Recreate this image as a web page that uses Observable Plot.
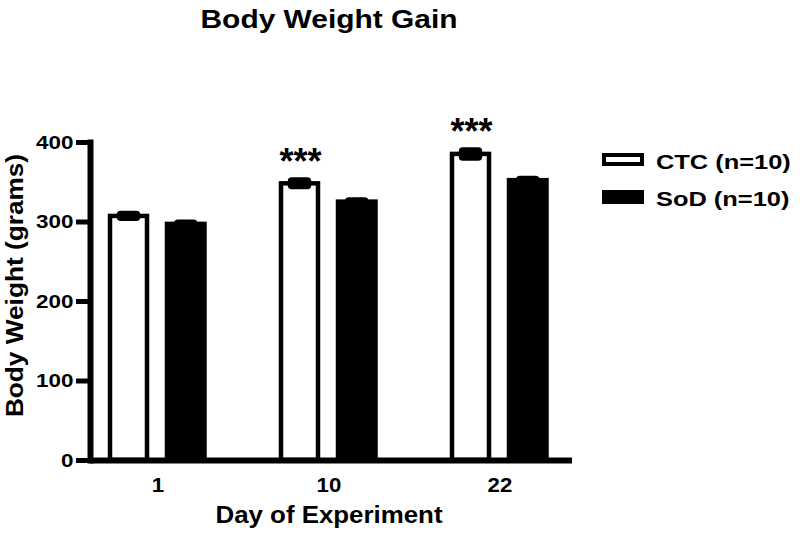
<!DOCTYPE html>
<html>
<head>
<meta charset="utf-8">
<script src="https://cdn.jsdelivr.net/npm/d3@7"></script>
<script src="https://cdn.jsdelivr.net/npm/@observablehq/plot@0.6"></script>
<style>
  html, body { margin: 0; padding: 0; background: #fff; }
  #wrap { position: relative; width: 800px; height: 535px; overflow: hidden;
          font-family: "Liberation Sans", Arial, sans-serif; font-weight: bold; color: #000; }
  #wrap svg { position: absolute; left: 0; top: 0; }
  .lbl { position: absolute; white-space: nowrap; }
  #title { left: 29px; top: 6.3px; width: 600px; text-align: center; font-size: 26px; line-height: 26px; transform: scaleX(1.15); }
  #xlabel { left: 129px; top: 503.6px; width: 400px; text-align: center; font-size: 23.3px; line-height: 23.3px; transform: scaleX(1.11); }
  #ylabel { left: -135px; top: 273.5px; width: 300px; height: 23px; text-align: center; font-size: 23px; line-height: 23px; transform: rotate(-90deg) scaleX(1.14); }
  .legtext { left: 656px; font-size: 20px; line-height: 20px; transform-origin: left center; transform: scaleX(1.27); }
  .legbox { position: absolute; left: 602px; width: 42px; box-sizing: border-box; border: 4px solid #000; }
</style>
</head>
<body>
<div id="wrap">
  <div id="chart"></div>
  <div id="title" class="lbl">Body Weight Gain</div>
  <div id="xlabel" class="lbl">Day of Experiment</div>
  <div id="ylabel" class="lbl">Body Weight (grams)</div>
  <div id="legend"></div>
</div>
<script>
// ---- data ----
const days = ["1", "10", "22"];
const groups = ["CTC (n=10)", "SoD (n=10)"];
const ctcMean = [307, 348, 385];
const ctcErr = [4, 5, 6];
const sodMean = [297, 325, 352];
const sodErr = [3, 3, 3];
const sigLabels = ["", "***", "***"];
const yTicks = [0, 100, 200, 300, 400];

const ctc = days.map((d, i) => ({day: d, group: groups[0], mean: ctcMean[i], err: ctcErr[i], sig: sigLabels[i]}));
const sod = days.map((d, i) => ({day: d, group: groups[1], mean: sodMean[i], err: sodErr[i]}));

const chart = Plot.plot({
  width: 800,
  height: 535,
  marginLeft: 90,
  marginRight: 228,
  marginTop: 142,
  marginBottom: 75,
  style: {fontFamily: "'Liberation Sans', Arial, sans-serif", fontWeight: "bold", color: "black", background: "transparent", overflow: "visible"},
  x: {domain: days, range: [71, 585.5], padding: 0},
  y: {domain: [0, 400]},
  marks: [
    Plot.barY(ctc, {x: "day", y: "mean", fill: "white", stroke: "black", strokeWidth: 4.5, insetLeft: 38, insetRight: 96}),
    Plot.barY(sod, {x: "day", y: "mean", fill: "black", stroke: "black", strokeWidth: 4.5, insetLeft: 95, insetRight: 38.5}),
    Plot.barY(ctc, {x: "day", y1: d => d.mean - d.err, y2: d => d.mean + d.err, fill: "black", stroke: "black", strokeWidth: 4, rx: 2, insetLeft: 46.75, insetRight: 104.75}),
    Plot.barY(sod, {x: "day", y1: d => d.mean - d.err, y2: d => d.mean + d.err, fill: "black", stroke: "black", strokeWidth: 4, rx: 2, insetLeft: 104, insetRight: 47.5}),
    Plot.text(ctc.filter(d => d.sig), {x: "day", y: d => d.mean + d.err, text: "sig", dx: -28.5, dy: -6, lineAnchor: "bottom", fontSize: 36, fontWeight: "bold"}),
    Plot.ruleY([0], {stroke: "black", strokeWidth: 6}),
    Plot.frame({anchor: "left", stroke: "black", strokeWidth: 6}),
    Plot.axisY({ticks: yTicks, tickSize: 14, tickPadding: 3, stroke: "black", strokeWidth: 5, fontSize: 19, fontWeight: "bold", label: null}),
    Plot.axisX({tickSize: 0, tickPadding: 16.5, fontSize: 21, fontWeight: "bold", label: null})
  ]
});
document.getElementById("chart").appendChild(chart);

// widen tick labels to match the reference's wide face
function widen(sel, k) {
  chart.querySelectorAll(sel).forEach(t => {
    const tr = t.getAttribute("transform");
    if (tr && tr.includes("translate")) {
      t.setAttribute("transform", tr + ` scale(${k},1)`);
    } else {
      const x = +t.getAttribute("x") || 0, y = +t.getAttribute("y") || 0;
      t.removeAttribute("x"); t.removeAttribute("y");
      t.setAttribute("transform", `translate(${x},${y}) scale(${k},1)` + (tr ? " " + tr : ""));
    }
  });
}
widen('g[aria-label="y-axis tick label"] text', 1.18);
widen('g[aria-label="x-axis tick label"] text', 1.06);

// legend
const legend = document.getElementById("legend");
const legRows = [
  {label: groups[0], fill: "#fff", boxTop: 153, boxH: 12.5, textTop: 152.4},
  {label: groups[1], fill: "#000", boxTop: 190, boxH: 14, textTop: 188.6}
];
legRows.forEach(r => {
  const b = document.createElement("div");
  b.className = "legbox";
  b.style.top = r.boxTop + "px";
  b.style.height = r.boxH + "px";
  b.style.background = r.fill;
  legend.appendChild(b);
  const t = document.createElement("div");
  t.className = "lbl legtext";
  t.style.top = r.textTop + "px";
  t.textContent = r.label;
  legend.appendChild(t);
});
</script>
</body>
</html>
